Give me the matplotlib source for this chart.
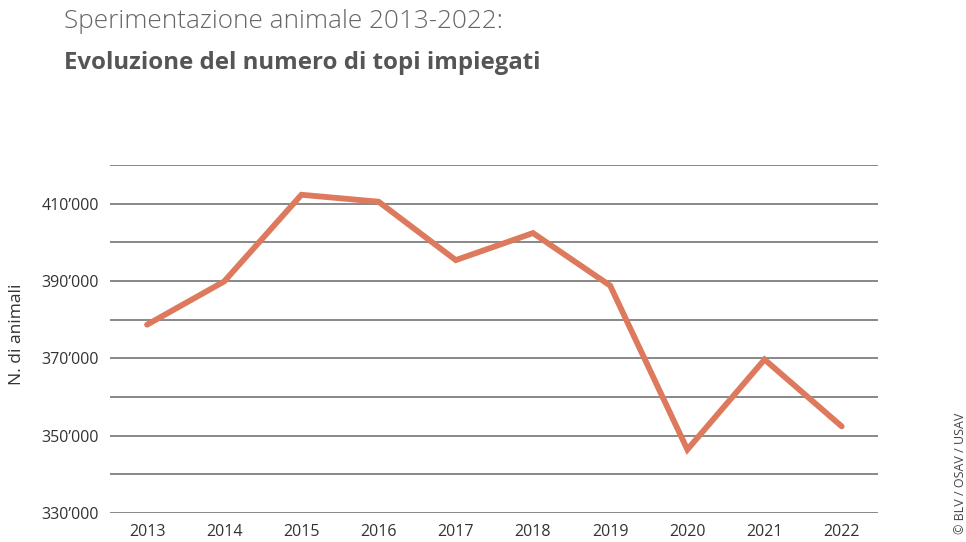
import matplotlib
matplotlib.use("Agg")
import matplotlib.pyplot as plt
from matplotlib.ticker import FuncFormatter

years = [2013, 2014, 2015, 2016, 2017, 2018, 2019, 2020, 2021, 2022]
mice = [378700, 389900, 412300, 410500, 395400, 402400, 388800, 346400, 369700, 352400]
grid_values = list(range(330000, 420001, 10000))
label_values = [330000, 350000, 370000, 390000, 410000]

plt.rcParams['font.family'] = ['Open Sans', 'DejaVu Sans']

fig = plt.figure(figsize=(9.66, 5.42), dpi=100)
ax = fig.add_axes([110/966, 1 - 513/542, (878-110)/966, (513-165)/542])

for v in grid_values:
    ax.axhline(v, color='#7f7f7f', lw=1.3, zorder=1)

ax.plot(years, mice, color='#dd7a5d', lw=4.2, solid_capstyle='round', solid_joinstyle='miter', zorder=3)

ax.set_xlim(2013 - 0.48, 2022 + 0.47)
ax.set_ylim(330000, 420000)
ax.set_yticks(label_values)
ax.yaxis.set_major_formatter(FuncFormatter(lambda v, p: f"{int(v/1000)}\u2019000"))
ax.set_xticks(years)
ax.tick_params(axis='both', length=0, labelsize=11.5, colors='#333333')
ax.tick_params(axis='y', pad=8)
ax.tick_params(axis='x', pad=8)
for s in ax.spines.values():
    s.set_visible(False)
ax.set_facecolor('none')

fig.text(17/966, 1 - 334/542, "N. di animali", rotation=90, ha='center', va='center',
         fontsize=12.5, color='#333333')
fig.text(960/966, 1 - 473/542, "\u00a9 BLV / OSAV / USAV", rotation=90, ha='center', va='center',
         fontsize=9, color='#444444')

fig.text(64/966, 1 - 22/542, "Sperimentazione animale 2013-2022:", ha='left', va='center',
         fontsize=18.8, color='#666666', fontweight='light')
fig.text(64/966, 1 - 63/542, "Evoluzione del numero di topi impiegati", ha='left', va='center',
         fontsize=17.3, color='#555555', fontweight='bold')

fig.savefig("out.png", dpi=100)
